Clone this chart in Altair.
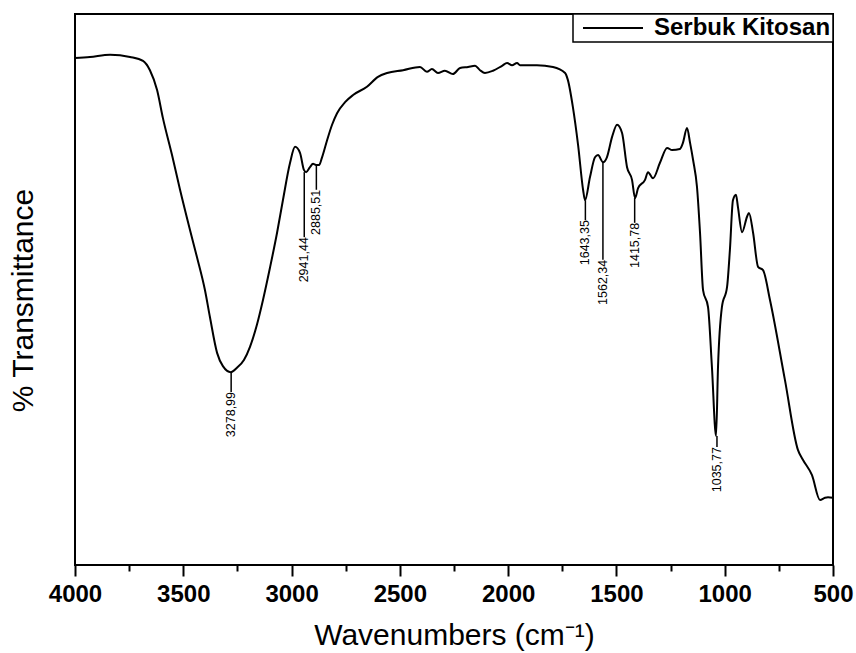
import altair as alt
import pandas as pd

# FTIR spectrum of "Serbuk Kitosan"
wavenumber = [4000, 3931, 3838, 3746, 3686, 3654, 3621, 3594, 3552, 3515,
              3469, 3437, 3400, 3377, 3344, 3317, 3280, 3252, 3220, 3192,
              3160, 3132, 3100, 3067, 3040, 3007, 2984, 2961, 2943, 2933,
              2915, 2901, 2887, 2873, 2860, 2836, 2813, 2790, 2753, 2716,
              2652, 2601, 2559, 2485, 2407, 2375, 2352, 2324, 2292, 2255,
              2222, 2185, 2153, 2130, 2107, 2070, 2028, 2005, 1982, 1959,
              1945, 1867, 1793, 1737, 1724, 1701, 1677, 1654, 1645, 1622,
              1599, 1585, 1562, 1544, 1520, 1497, 1474, 1451, 1428, 1414,
              1400, 1368, 1354, 1331, 1299, 1266, 1243, 1207, 1193, 1174,
              1160, 1146, 1128, 1114, 1100, 1077, 1059, 1040, 1031, 1013,
              989, 976, 962, 948, 939, 920, 897, 888, 869, 846,
              823, 791, 722, 662, 639, 597, 560, 537, 523, 500]
transmittance = [92.0, 92.2, 92.6, 92.2, 91.5, 89.8, 86.2, 81.1, 74.4, 68.1,
                 60.8, 55.9, 49.9, 45.0, 38.5, 36.1, 35.0, 35.8, 37.2, 39.6,
                 43.6, 48.1, 53.9, 60.3, 66.2, 73.0, 75.9, 74.8, 71.7, 71.3,
                 72.2, 72.8, 72.6, 72.6, 73.9, 77.1, 79.9, 82.0, 84.0, 85.3,
                 86.8, 88.6, 89.3, 89.8, 90.4, 89.5, 90.0, 89.3, 89.7, 89.1,
                 90.2, 90.4, 90.6, 89.8, 89.3, 89.7, 90.6, 91.1, 90.7, 91.1,
                 90.7, 90.7, 90.4, 89.3, 88.0, 83.1, 76.2, 68.1, 66.2, 70.4,
                 74.0, 74.4, 73.1, 74.0, 77.7, 79.9, 78.4, 72.2, 69.9, 66.6,
                 68.4, 69.9, 71.3, 70.2, 73.0, 75.7, 75.3, 75.5, 76.6, 79.3,
                 76.6, 73.5, 68.6, 60.3, 49.9, 46.8, 35.9, 23.4, 35.9, 46.8,
                 50.5, 57.2, 66.2, 67.2, 65.0, 60.4, 63.2, 63.9, 60.3, 54.1,
                 53.5, 48.1, 33.6, 20.9, 19.1, 16.3, 11.8, 12.2, 12.3, 12.2]
series_name = "Serbuk Kitosan"

# peak annotations
peak_wavenumber = [3278.99, 2941.44, 2885.51, 1643.35, 1562.34, 1415.78, 1035.77]
peak_label = ["3278,99", "2941,44", "2885,51", "1643,35", "1562,34", "1415,78", "1035,77"]
peak_T = [35.0, 71.3, 72.6, 66.2, 73.1, 66.6, 23.4]
label_T = [31.4, 59.5, 68.1, 62.6, 55.4, 62.1, 21.4]

major_ticks = [4000, 3500, 3000, 2500, 2000, 1500, 1000, 500]
minor_ticks = [3750, 3250, 2750, 2250, 1750, 1250, 750]

FONT = "Liberation Sans"

curve = pd.DataFrame({"wavenumber": wavenumber, "T": transmittance,
                      "series": [series_name] * len(wavenumber)})
peaks = pd.DataFrame({"wavenumber": peak_wavenumber, "T": peak_T,
                      "T2": label_T, "label": peak_label})

x_scale = alt.Scale(domain=[500, 4000], reverse=True, nice=False, zero=False)
y_scale = alt.Scale(domain=[0, 100], nice=False, zero=False)

x_main = alt.X(
    "wavenumber:Q", scale=x_scale,
    axis=alt.Axis(
        title="Wavenumbers (cm⁻¹)", values=major_ticks, format="d",
        orient="bottom", labelOverlap=False, labelFlush=False,
        labelFont=FONT, labelFontSize=24, labelFontWeight="bold",
        labelColor="black", labelPadding=6, tickSize=11,
        tickWidth=2, tickColor="black", domain=False, grid=False,
        titleFont=FONT, titleFontSize=30, titleFontWeight="normal",
        titleColor="black", titleBaseline="alphabetic", titleX=379, titleY=79,
    ),
)
x_minor = alt.X(
    "wavenumber:Q", scale=x_scale,
    axis=alt.Axis(
        title=None, values=minor_ticks, orient="bottom", labels=False,
        tickSize=6, tickWidth=2, tickColor="black", domain=False, grid=False,
    ),
)
y_enc = alt.Y(
    "T:Q", scale=y_scale,
    axis=alt.Axis(
        title="% Transmittance", ticks=False, labels=False, domain=False,
        grid=False, titleFont=FONT, titleFontSize=30, titleFontWeight="normal",
        titleColor="black", titleBaseline="alphabetic", titleAngle=270,
        titleX=-43, titleY=286,
    ),
)

line = alt.Chart(curve).mark_line(strokeWidth=2, interpolate="monotone").encode(
    x=x_main, y=y_enc,
    color=alt.Color(
        "series:N",
        scale=alt.Scale(domain=[series_name], range=["black"]),
        legend=alt.Legend(
            title=None, orient="top-right", offset=0, padding=2,
            symbolType="M-3,0H3", symbolSize=400, symbolStrokeWidth=2,
            symbolOffset=26, labelOffset=29, labelLimit=400,
            labelFont=FONT, labelFontSize=24,
            labelFontWeight="bold", labelColor="black",
            strokeColor="black", fillColor="white",
        ),
    ),
)

rules = alt.Chart(peaks).mark_rule(color="black", strokeWidth=1.5).encode(
    x=x_minor, y=alt.Y("T:Q", scale=y_scale, axis=None), y2="T2:Q",
)

texts = alt.Chart(peaks).mark_text(
    angle=270, align="right", baseline="middle", font=FONT, fontSize=12.5,
    color="black",
).encode(
    x=alt.X("wavenumber:Q", scale=x_scale, axis=None),
    y=alt.Y("T2:Q", scale=y_scale, axis=None),
    text="label:N",
)

chart = alt.layer(line, rules, texts).resolve_axis(x="independent", y="independent").properties(
    width=758, height=551,
    autosize=alt.AutoSizeParams(type="none"),
    padding={"left": 75, "top": 14, "right": 23, "bottom": 88},
    background="white",
).configure_view(stroke="black", strokeWidth=2).configure_legend(strokeWidth=1.5)

chart.save("out.html", embed_options={"renderer": "svg", "actions": False})
